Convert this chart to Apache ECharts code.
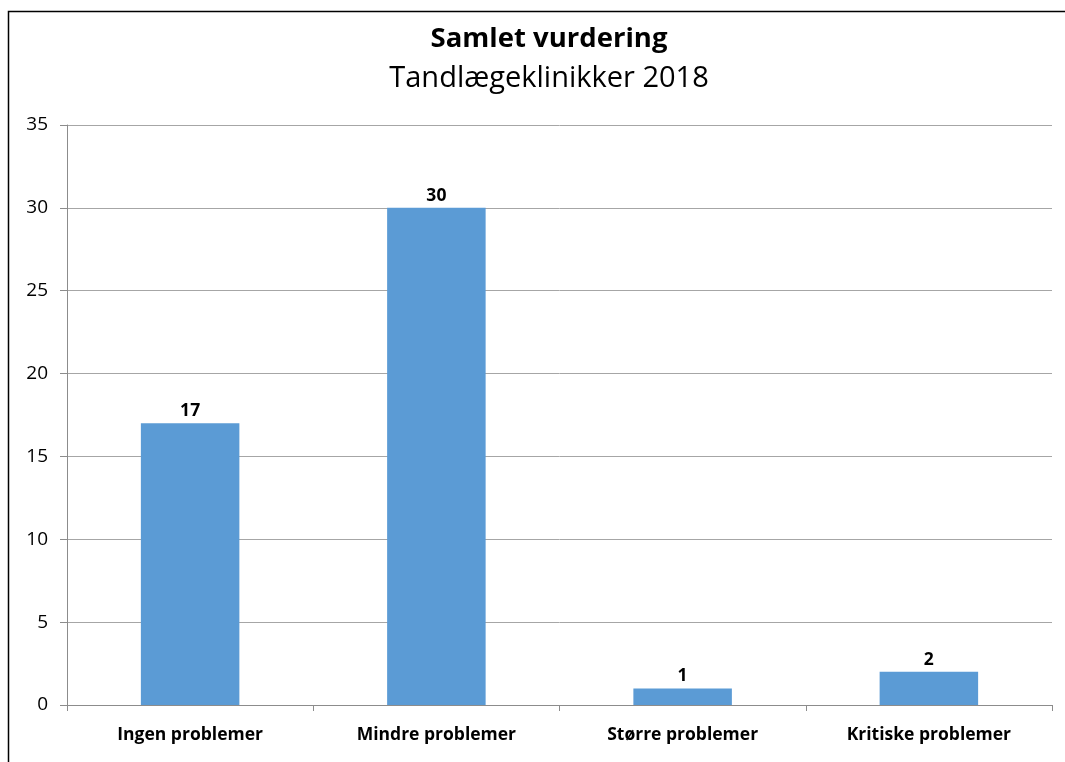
<!DOCTYPE html>
<html>
<head>
<meta charset="utf-8">
<script src="https://cdn.jsdelivr.net/npm/echarts@6/dist/echarts.min.js"></script>
<style>
  html, body { margin: 0; padding: 0; background: #fff; }
  #chart { width: 1065px; height: 762px; }
</style>
</head>
<body>
<div id="chart"></div>
<script>
// Vurderingskategorier og antal klinikker
const categories = ['Ingen problemer', 'Mindre problemer', 'Større problemer', 'Kritiske problemer'];
const counts = [17, 30, 1, 2];
const yTicks = { min: 0, max: 35, interval: 5 };

const FONT = '"Open Sans", Lato, sans-serif';

const chart = echarts.init(document.getElementById('chart'), null, { renderer: 'canvas' });
chart.setOption({
  animation: false,
  backgroundColor: '#ffffff',
  title: [
    {
      text: 'Samlet vurdering',
      left: 544, top: 20, textAlign: 'center',
      textStyle: { fontFamily: FONT, fontSize: 27.5, fontWeight: 'bold', color: '#000' }
    },
    {
      text: 'Tandlægeklinikker 2018',
      left: 544, top: 59, textAlign: 'center',
      textStyle: { fontFamily: FONT, fontSize: 29, fontWeight: 'normal', color: '#000' }
    }
  ],
  graphic: [
    {
      type: 'rect', silent: true, z: 100,
      shape: { x: 8.5, y: 11.5, width: 1200, height: 900 },
      style: { fill: 'none', stroke: '#000', lineWidth: 1.5 }
    }
  ],
  grid: { left: 67, right: 13, top: 125, bottom: 57, containLabel: false },
  xAxis: {
    type: 'category',
    data: categories,
    axisLine: { show: true, lineStyle: { color: '#8c8c8c', width: 1 } },
    axisTick: { show: true, alignWithLabel: false, length: 6, lineStyle: { color: '#8c8c8c' } },
    axisLabel: { fontFamily: FONT, fontSize: 17.5, fontWeight: 'bold', color: '#000', margin: 21 },
    splitLine: { show: false }
  },
  yAxis: {
    type: 'value',
    min: yTicks.min, max: yTicks.max, interval: yTicks.interval,
    axisLine: { show: true, lineStyle: { color: '#8c8c8c', width: 1 } },
    axisTick: { show: true, length: 7, lineStyle: { color: '#8c8c8c' } },
    axisLabel: { fontFamily: FONT, fontSize: 19, color: '#000', margin: 19 },
    splitLine: { show: true, lineStyle: { color: '#a6a6a6', width: 1 } }
  },
  series: [
    {
      type: 'bar',
      data: counts,
      barWidth: '40%',
      itemStyle: { color: '#5b9bd5' },
      label: {
        show: true, position: 'top', distance: 3,
        fontFamily: FONT, fontSize: 17.5, fontWeight: 'bold', color: '#000'
      }
    }
  ]
});
</script>
</body>
</html>
